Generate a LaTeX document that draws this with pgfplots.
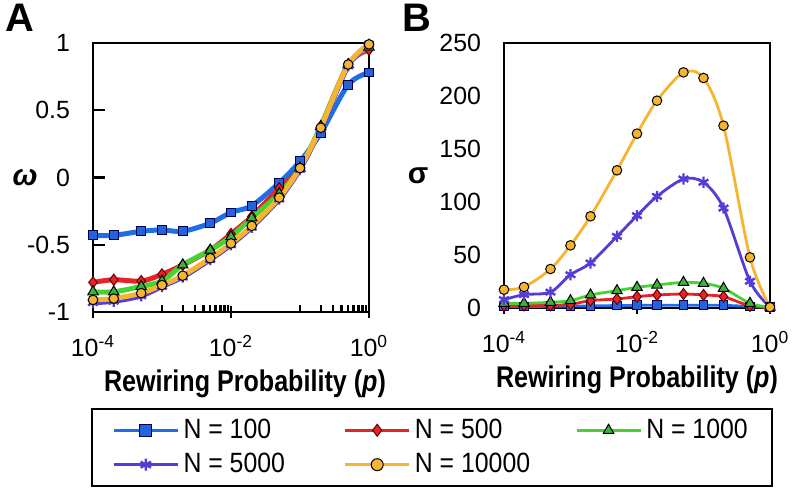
\documentclass[border=0pt]{standalone}
\usepackage{pgfplots}
\usepackage{pgfplotstable}
\pgfplotsset{compat=1.18}
\usepackage{fontspec}
\setmainfont{Liberation Sans}

\definecolor{cblue}{RGB}{30,110,230}
\definecolor{cbluem}{RGB}{35,100,220}
\definecolor{cred}{RGB}{230,35,40}
\definecolor{cgreen}{RGB}{70,210,50}
\definecolor{cgreenm}{RGB}{60,180,60}
\definecolor{cpurple}{RGB}{85,60,215}
\definecolor{corange}{RGB}{245,180,50}

% omega vs p
\pgfplotstableread{
p      n100   n500   n1000  n5000  n10000
1e-4   -0.43  -0.78  -0.85  -0.93  -0.91
2e-4   -0.43  -0.76  -0.85  -0.92  -0.90
5e-4   -0.40  -0.77  -0.81  -0.88  -0.86
1e-3   -0.39  -0.72  -0.77  -0.81  -0.80
2e-3   -0.40  -0.65  -0.65  -0.74  -0.73
5e-3   -0.34  -0.54  -0.54  -0.61  -0.60
1e-2   -0.26  -0.42  -0.44  -0.50  -0.49
2e-2   -0.21  -0.29  -0.30  -0.37  -0.36
5e-2   -0.04  -0.08  -0.12  -0.16  -0.15
0.1     0.12   0.07   0.07   0.06   0.07
0.2     0.33   0.38   0.38   0.36   0.37
0.5     0.69   0.84   0.84   0.83   0.84
1       0.78   0.95   0.97   0.99   0.99
}\omegadata

% sigma vs p
\pgfplotstableread{
p      n100   n500   n1000  n5000  n10000
1e-4   1.5    2.5    4.4    7.9    17.3
2e-4   1.5    2.5    4.4    12.6   19.8
5e-4   1.6    2.6    5.4    15.0   36.8
1e-3   1.8    3.5    6.9    31.4   59.1
2e-3   2.0    7.0    12.3   42.5   86.5
5e-3   2.3    8.5    16.4   67.6   129.9
1e-2   2.5    10.7   19.5   87.1   164.5
2e-2   2.6    12.3   21.7   105.3  195.6
5e-2   2.6    13.2   24.2   121.7  222.3
0.1    2.6    12.3   23.3   118.6  217.0
0.2    2.5    10.7   18.6   94.3   172.0
0.5    1.5    2.0    4.4    25.2   47.8
1      0.8    0.8    0.8    0.8    0.8
}\sigmadata

\newcommand{\lgt}[1]{\scalebox{0.89}[1]{#1}}

\pgfplotsset{
  rwpanel/.style={
    scale only axis, xmin=1e-4, xmax=1, clip=false,
    axis line style={line width=1.3bp},
    tick style={line width=1.2bp, black},
    major tick length=6bp,
    tick align=center,
    xtick pos=left, ytick pos=left,
    ytick style={xshift=3bp},
    xtick={1e-4,1e-2,1},
    xticklabels={10\textsuperscript{-4},10\textsuperscript{-2},10\textsuperscript{0}},
    tick label style={font=\fontsize{12.5}{14}\selectfont},
    xticklabel style={anchor=center, yshift=-14bp},
    yticklabel style={anchor=east, xshift=-5bp},
    xlabel={\scalebox{0.84}[1]{\textbf{Rewiring Probability (\textit{p})}}},
    xlabel style={at={(axis description cs:0.5,0)}, anchor=center, yshift=-36bp, font=\fontsize{15}{17}\selectfont},
    ylabel style={at={(axis description cs:0,0.5)}, rotate=-90, anchor=center, font=\fontsize{15}{17}\selectfont},
  },
  s100/.style={smooth, line width=#1, color=cblue, mark=square*, mark size=2.2bp, mark options={fill=cbluem, draw=black!70!blue, line width=0.5bp}},
  s500/.style={smooth, line width=#1, color=cred, mark=diamond*, mark size=2.8bp, mark options={fill=cred, draw=black!60!red, line width=0.5bp}},
  s1000/.style={smooth, line width=#1, color=cgreen, mark=triangle*, mark size=3bp, mark options={fill=cgreenm, draw=black, line width=0.5bp}},
  s5000/.style={smooth, line width=#1, color=cpurple, mark=asterisk, mark size=2.8bp, mark options={draw=cpurple, line width=1.2bp}},
  s10000/.style={smooth, line width=#1, color=corange, mark=*, mark size=2.4bp, mark options={fill=corange, draw=black, line width=0.5bp}},
}

\begin{document}
\begin{tikzpicture}
\useasboundingbox (0,0) rectangle (396bp,-246bp);

\node[font=\fontsize{20}{22}\selectfont\bfseries] at (10bp,-9bp) {A};
\node[font=\fontsize{20}{22}\selectfont\bfseries] at (208.5bp,-9bp) {B};

\begin{axis}[xmode=log, rwpanel,
  at={(46.5bp,-156bp)}, anchor=south west,
  width=138bp, height=134.5bp,
  ymin=-1, ymax=1,
  ytick={-1,-0.5,0,0.5,1},
  yticklabels={-1,-0.5,0,0.5,1},
  extra x ticks={1e-3,2e-3,3e-3,4e-3,5e-3,6e-3,7e-3,8e-3,9e-3,0.1,0.2,0.3,0.4,0.5,0.6,0.7,0.8,0.9},
  extra x tick labels={},
  extra x tick style={major tick length=3.5bp, yshift=1.75bp},
  xlabel style={xshift=7bp},
  ylabel={\textbf{\textit{ω}}},
  ylabel style={xshift=-34bp},
  legend image code/.code={\draw[mark repeat=2,mark phase=2,#1,line width=1.7bp,mark size=3bp] plot coordinates {(0bp,0bp) (16bp,0bp) (32bp,0bp)};},
  legend columns=3,
  legend style={at={(1.228,-0.357)}, anchor=north, draw=black, line width=1bp,
    inner xsep=10bp, inner ysep=3bp,
    font=\fontsize{14}{16}\selectfont,
    /tikz/every even column/.append style={column sep=6bp},
    /tikz/row sep=2bp},
]
\addplot[s100=2.5bp] table[x=p, y=n100] {\omegadata};
\addlegendentry{\makebox[72bp][l]{\lgt{N = 100}}}
\addplot[s500=2.5bp] table[x=p, y=n500] {\omegadata};
\addlegendentry{\makebox[72bp][l]{\lgt{N = 500}}}
\addplot[s1000=2.5bp] table[x=p, y=n1000] {\omegadata};
\addlegendentry{\lgt{N = 1000}}
\addplot[s5000=2.5bp] table[x=p, y=n5000] {\omegadata};
\addlegendentry{\makebox[72bp][l]{\lgt{N = 5000}}}
\addplot[s10000=2.5bp] table[x=p, y=n10000] {\omegadata};
\addlegendentry{\makebox[72bp][l]{\lgt{N = 10000}}}
\end{axis}

\begin{axis}[xmode=log, rwpanel,
  at={(252bp,-154bp)}, anchor=south west,
  width=133bp, height=132.5bp,
  ymin=0, ymax=250,
  ytick={0,50,100,150,200,250},
  yticklabels={0,50,100,150,200,250},
  ytick style={draw=none},
  ylabel={\textbf{σ}},
  ylabel style={xshift=-43bp},
]
\addplot[s100=1.4bp] table[x=p, y=n100] {\sigmadata};
\addplot[s500=1.4bp] table[x=p, y=n500] {\sigmadata};
\addplot[s1000=1.4bp] table[x=p, y=n1000] {\sigmadata};
\addplot[s5000=1.4bp] table[x=p, y=n5000] {\sigmadata};
\addplot[s10000=1.4bp] table[x=p, y=n10000] {\sigmadata};
\end{axis}
\end{tikzpicture}
\end{document}
